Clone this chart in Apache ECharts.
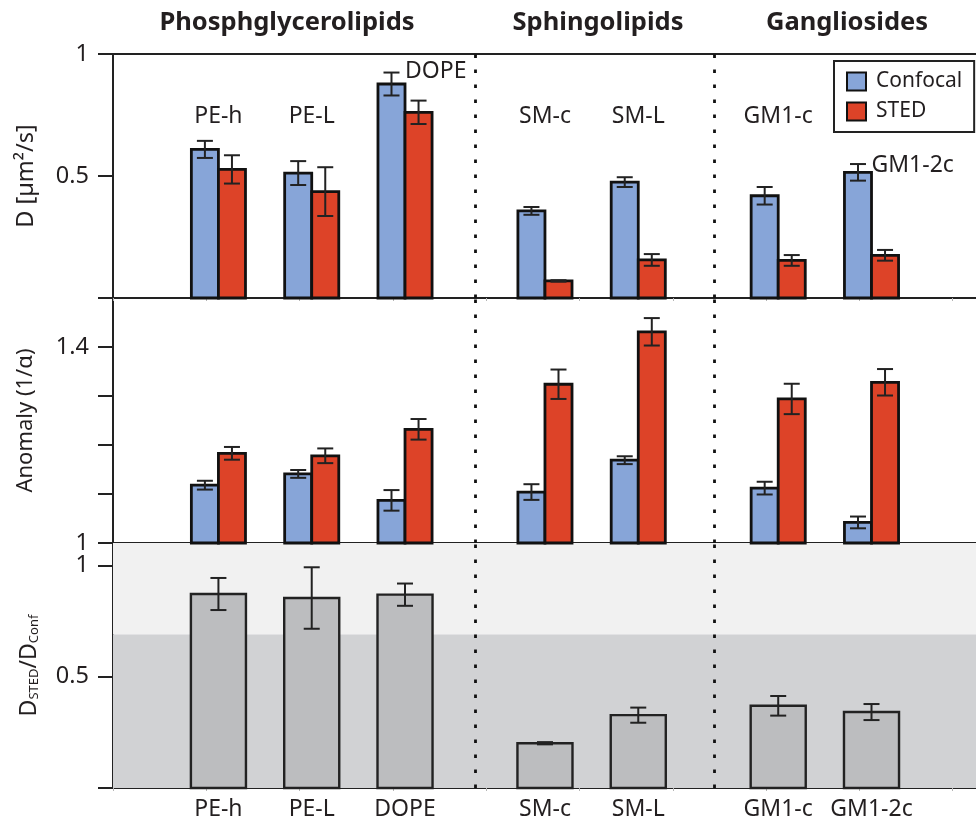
<!DOCTYPE html>
<html><head><meta charset="utf-8">
<script src="https://cdn.jsdelivr.net/npm/echarts@6/dist/echarts.min.js"></script>
<style>html,body{margin:0;padding:0;background:#fff}#c{width:976px;height:823px}</style>
</head><body><div id="c"></div>
<script>
// ---------- data ----------
const categories = ['PE-h','PE-L','DOPE','SM-c','SM-L','GM1-c','GM1-2c'];
const groups = ['Phosphglycerolipids','Sphingolipids','Gangliosides'];
const dConfocal    = [0.609,0.512,0.877,0.357,0.475,0.419,0.515];
const dConfocalErr = [0.035,0.049,0.047,0.016,0.020,0.036,0.034];
const dSted        = [0.527,0.436,0.761,0.070,0.156,0.154,0.175];
const dStedErr     = [0.058,0.100,0.048,0.003,0.024,0.022,0.022];
const anomConfocal    = [1.118,1.141,1.087,1.104,1.169,1.112,1.042];
const anomConfocalErr = [0.009,0.008,0.021,0.016,0.008,0.013,0.012];
const anomSted        = [1.183,1.178,1.232,1.324,1.431,1.294,1.328];
const anomStedErr     = [0.013,0.015,0.021,0.030,0.028,0.031,0.027];
const ratio    = [0.871,0.853,0.868,0.201,0.327,0.369,0.341];
const ratioErr = [0.072,0.138,0.050,0.005,0.034,0.044,0.036];
const dTickLabels = [0.5, 1];
const anomTickLabels = [1, 1.4];
const ratioTickLabels = [0.5, 1];
const ratioBand = 0.69;

// ---------- layout ----------
const catPos = [1.13,2.13,3.13,4.63,5.63,7.13,8.13];
const dividers = [3.88, 6.44];
const labelY = [0.746,0.746,0.93,0.746,0.746,0.746,0.545];
const labelAlign = ['center','center','left','center','center','center','left'];
const FONT = '"Noto Sans", "Open Sans", sans-serif';
const INK = '#231f20';
const BLUE = '#87a5d8', RED = '#dd4328', GRAY = '#bcbdbf';
const halfW = 0.145;

function barRender(base, offset, w, fill, border, bw) {
  return function (params, api) {
    const x = api.value(0) + offset, v = api.value(1), e = api.value(2);
    const p0 = api.coord([x - w, base]);
    const p1 = api.coord([x + w, v]);
    const c = api.coord([x, v]);
    const top = api.coord([x, v + e])[1], bot = api.coord([x, v - e])[1];
    const cap = 8;
    return {
      type: 'group',
      children: [
        { type: 'rect', shape: { x: p0[0], y: p1[1], width: p1[0] - p0[0], height: p0[1] - p1[1] },
          style: { fill: fill, stroke: border, lineWidth: bw } },
        { type: 'line', shape: { x1: c[0], y1: top, x2: c[0], y2: bot }, style: { stroke: '#222', lineWidth: 2 } },
        { type: 'line', shape: { x1: c[0] - cap, y1: top, x2: c[0] + cap, y2: top }, style: { stroke: '#222', lineWidth: 2 } },
        { type: 'line', shape: { x1: c[0] - cap, y1: bot, x2: c[0] + cap, y2: bot }, style: { stroke: '#222', lineWidth: 2 } }
      ]
    };
  };
}
function mk(vals, errs) { return catPos.map((p, i) => [p, vals[i], errs[i]]); }

const dividerLine = {
  silent: true, symbol: 'none', label: { show: false },
  lineStyle: { type: [3.5, 11.5], color: '#111', width: 2.8 },
  data: dividers.map(d => ({ xAxis: d }))
};

function xAx(g, pos) {
  return {
    gridIndex: g, type: 'value', min: 0, max: 9.25, interval: 1, position: pos,
    axisLine: { show: true, onZero: false, lineStyle: { color: '#222', width: 2 } },
    axisTick: { show: pos === 'bottom', length: 3, lineStyle: { color: '#b5b5b5', width: 1 } },
    axisLabel: { show: false }, splitLine: { show: false }
  };
}
function yAx(g, min, max, interval, labels, name, nameGap, nameSize) {
  return {
    gridIndex: g, type: 'value', min: min, max: max, interval: interval,
    axisLine: { show: true, lineStyle: { color: '#222', width: 2 } },
    axisTick: { show: true, length: 15, lineStyle: { color: '#222', width: 2 } },
    axisLabel: { fontSize: 23.5, color: INK, margin: 24, fontFamily: FONT,
      formatter: v => labels.some(l => Math.abs(l - v) < 1e-9) ? String(+v.toFixed(2)) : '' },
    splitLine: { show: false },
    name: name, nameLocation: 'middle', nameGap: nameGap,
    nameTextStyle: { fontSize: nameSize, color: INK, fontFamily: FONT,
      rich: { a: { fontSize: 23, color: INK, fontFamily: FONT },
              s: { fontSize: 13, color: INK, fontFamily: FONT, verticalAlign: 'bottom' } } }
  };
}

const chart = echarts.init(document.getElementById('c'), null, { renderer: 'canvas' });
chart.setOption({
  animation: false,
  backgroundColor: '#fff',
  grid: [
    { left: 113, right: 0, top: 54, height: 244 },
    { left: 113, right: 0, top: 298, height: 245 },
    { left: 113, right: 0, top: 543, height: 245 }
  ],
  xAxis: [xAx(0, 'bottom'), xAx(0, 'top'), xAx(1, 'bottom'), xAx(2, 'bottom')],
  yAxis: [
    yAx(0, 0, 1, 0.5, dTickLabels, 'D [µm²/s]', 75, 23.5),
    yAx(1, 1, 1.5, 0.1, anomTickLabels, 'Anomaly (1/α)', 76, 22),
    yAx(2, 0, 1.1, 0.5, ratioTickLabels, '{a|D}{s|STED}{a|/D}{s|Conf}', 72, 22)
  ],
  legend: {
    orient: 'vertical', left: 834, top: 61, selectedMode: false,
    itemWidth: 19, itemHeight: 18, itemGap: 9,
    padding: [10, 12, 10, 12], borderColor: '#222', borderWidth: 2,
    textStyle: { fontSize: 21, color: INK, fontFamily: FONT, padding: [0, 0, 0, 5] },
    data: [
      { name: 'Confocal', icon: 'rect', itemStyle: { color: BLUE, borderColor: '#111', borderWidth: 2 } },
      { name: 'STED', icon: 'rect', itemStyle: { color: RED, borderColor: '#111', borderWidth: 2 } }
    ]
  },
  graphic: [
    { type: 'text', x: 287, y: 23, style: { text: groups[0], font: 'bold 25.5px ' + FONT, fill: INK, align: 'center', verticalAlign: 'middle' } },
    { type: 'text', x: 598, y: 23, style: { text: groups[1], font: 'bold 25.5px ' + FONT, fill: INK, align: 'center', verticalAlign: 'middle' } },
    { type: 'text', x: 847, y: 23, style: { text: groups[2], font: 'bold 25.5px ' + FONT, fill: INK, align: 'center', verticalAlign: 'middle' } }
  ],
  series: [
    { type: 'line', xAxisIndex: 3, yAxisIndex: 2, data: [], z: 0, silent: true,
      markArea: { silent: true, data: [
        [{ yAxis: 0, itemStyle: { color: '#d1d2d4' } }, { yAxis: ratioBand }],
        [{ yAxis: ratioBand, itemStyle: { color: '#f1f1f1' } }, { yAxis: 1.1 }]
      ] } },
    { name: 'Confocal', type: 'custom', xAxisIndex: 0, yAxisIndex: 0, z: 3, itemStyle: { color: BLUE },
      renderItem: barRender(0, -halfW, halfW, BLUE, '#111', 2.8), data: mk(dConfocal, dConfocalErr),
      markLine: dividerLine },
    { name: 'STED', type: 'custom', xAxisIndex: 0, yAxisIndex: 0, z: 3, itemStyle: { color: RED },
      renderItem: barRender(0, halfW, halfW, RED, '#111', 2.8), data: mk(dSted, dStedErr) },
    { name: 'Confocal', type: 'custom', xAxisIndex: 2, yAxisIndex: 1, z: 3, itemStyle: { color: BLUE },
      renderItem: barRender(1, -halfW, halfW, BLUE, '#111', 2.8), data: mk(anomConfocal, anomConfocalErr),
      markLine: dividerLine },
    { name: 'STED', type: 'custom', xAxisIndex: 2, yAxisIndex: 1, z: 3, itemStyle: { color: RED },
      renderItem: barRender(1, halfW, halfW, RED, '#111', 2.8), data: mk(anomSted, anomStedErr) },
    { name: 'Ratio', type: 'custom', xAxisIndex: 3, yAxisIndex: 2, z: 3, itemStyle: { color: GRAY },
      renderItem: barRender(0, 0, 0.295, GRAY, '#222', 2.4), data: mk(ratio, ratioErr),
      markLine: dividerLine },
    { type: 'custom', xAxisIndex: 0, yAxisIndex: 0, z: 4, silent: true,
      data: catPos.map((p, i) => [p, labelY[i], i]),
      renderItem: function (params, api) {
        const i = api.value(2);
        const pt = api.coord([api.value(0), api.value(1)]);
        return { type: 'text', x: pt[0], y: pt[1],
          style: { text: categories[i], fill: INK, font: '23px ' + FONT, align: labelAlign[i], verticalAlign: 'middle' } };
      } },
    { type: 'custom', xAxisIndex: 3, yAxisIndex: 2, z: 4, silent: true,
      data: catPos.map((p, i) => [p, 0, i]),
      renderItem: function (params, api) {
        const i = api.value(2);
        const pt = api.coord([api.value(0), api.value(1)]);
        return { type: 'text', x: pt[0], y: pt[1] + 21,
          style: { text: categories[i], fill: INK, font: '23px ' + FONT, align: 'center', verticalAlign: 'middle' } };
      } }
  ]
});
</script>
</body></html>
